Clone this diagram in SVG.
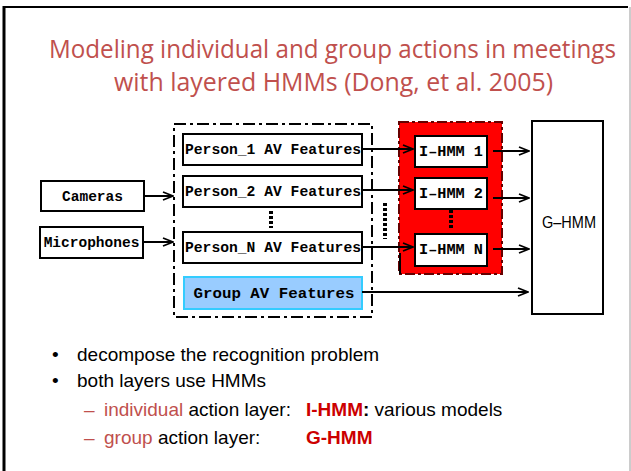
<svg xmlns="http://www.w3.org/2000/svg" width="631" height="471" viewBox="0 0 631 471">
<defs>
<marker id="ah" markerWidth="12" markerHeight="10" refX="11" refY="5" orient="auto" markerUnits="userSpaceOnUse">
<path d="M1,1 L11,5 L1,9" fill="none" stroke="#000" stroke-width="1.8"/>
</marker>
<style>
.box{fill:#fff;stroke:#000;stroke-width:2}
.mono{font-family:"Liberation Mono","DejaVu Sans Mono",monospace;font-weight:bold;font-size:14.5px;fill:#000}
.conn{stroke:#000;stroke-width:2;fill:none;marker-end:url(#ah)}
.dots{stroke:#000;stroke-width:4;stroke-dasharray:3 2;fill:none}
.body{font-family:"Liberation Sans",Arial,sans-serif;font-size:19px;fill:#000}
.red{fill:#C0504D}
.bred{fill:#CC0000;font-weight:bold}
</style>
</defs>
<rect width="631" height="471" fill="#fff"/>
<g id="frame">
<line x1="3" y1="7" x2="628" y2="7" stroke="#000" stroke-width="2"/>
<line x1="4" y1="6" x2="4" y2="471" stroke="#000" stroke-width="3"/>
<line x1="630" y1="7" x2="630" y2="471" stroke="#bbb" stroke-width="1.5"/>
</g>
<g id="title" font-family="'Open Sans','Noto Sans',sans-serif" font-size="25" fill="#C0504D">
<text x="49" y="58" textLength="567" lengthAdjust="spacingAndGlyphs">Modeling individual and group actions in meetings</text>
<text x="114" y="91" textLength="439" lengthAdjust="spacingAndGlyphs">with layered HMMs (Dong, et al. 2005)</text>
</g>
<g id="featureGroup">
<rect x="174" y="124" width="198" height="193" fill="none" stroke="#000" stroke-width="2" stroke-dasharray="12 4 3 4"/>
</g>
<g id="ihmmGroup">
<rect x="399" y="122" width="103" height="152" fill="#FF0000" stroke="#600" stroke-width="2" stroke-dasharray="10 3 3 3"/>
<line x1="400" y1="253" x2="400" y2="274" stroke="#000" stroke-width="2"/>
</g>
<g id="cameras">
<rect class="box" x="41" y="181" width="103" height="30"/>
<text class="mono" x="92.5" y="201" text-anchor="middle">Cameras</text>
</g>
<g id="microphones">
<rect class="box" x="40" y="227" width="103" height="31"/>
<text class="mono" x="91.5" y="247" text-anchor="middle">Microphones</text>
</g>
<g id="person1">
<rect class="box" x="183" y="134" width="179" height="31"/>
<text class="mono" x="273" y="154" text-anchor="middle" textLength="176" lengthAdjust="spacingAndGlyphs">Person_1 AV Features</text>
</g>
<g id="person2">
<rect class="box" x="183" y="176" width="179" height="31"/>
<text class="mono" x="273" y="196" text-anchor="middle" textLength="176" lengthAdjust="spacingAndGlyphs">Person_2 AV Features</text>
</g>
<g id="personN">
<rect class="box" x="183" y="232" width="179" height="31"/>
<text class="mono" x="273" y="252" text-anchor="middle" textLength="176" lengthAdjust="spacingAndGlyphs">Person_N AV Features</text>
</g>
<g id="groupAV">
<rect x="184" y="277" width="178" height="32" fill="#99CCFF" stroke="#33CCFF" stroke-width="2"/>
<text class="mono" x="274" y="298" text-anchor="middle" textLength="161" lengthAdjust="spacingAndGlyphs">Group AV Features</text>
</g>
<g id="ihmm1">
<rect class="box" x="415" y="136" width="72" height="31"/>
<text class="mono" x="451" y="156" text-anchor="middle" textLength="64" lengthAdjust="spacingAndGlyphs">I–HMM 1</text>
</g>
<g id="ihmm2">
<rect class="box" x="415" y="178" width="72" height="31"/>
<text class="mono" x="451" y="198" text-anchor="middle" textLength="64" lengthAdjust="spacingAndGlyphs">I–HMM 2</text>
</g>
<g id="ihmmN">
<rect class="box" x="415" y="234" width="72" height="32"/>
<text class="mono" x="451" y="254" text-anchor="middle" textLength="64" lengthAdjust="spacingAndGlyphs">I–HMM N</text>
</g>
<g id="ghmm">
<rect class="box" x="532" y="121" width="71" height="193"/>
<text x="569" y="228" text-anchor="middle" font-family="'Liberation Sans',Arial,sans-serif" font-size="17" textLength="54" lengthAdjust="spacingAndGlyphs">G–HMM</text>
</g>
<g id="connectors">
<line class="conn" x1="144" y1="196" x2="173" y2="196"/>
<line class="conn" x1="143" y1="242" x2="173" y2="242"/>
<line class="conn" x1="362" y1="149" x2="413" y2="149"/>
<line class="conn" x1="362" y1="190" x2="413" y2="190"/>
<line class="conn" x1="362" y1="247" x2="413" y2="247"/>
<line class="conn" x1="493" y1="151" x2="529" y2="151"/>
<line class="conn" x1="493" y1="198" x2="529" y2="198"/>
<line class="conn" x1="493" y1="249" x2="529" y2="249"/>
<line class="conn" x1="362" y1="292" x2="528" y2="292"/>
<line class="dots" x1="271" y1="211" x2="271" y2="228"/>
<line class="dots" x1="451" y1="210" x2="451" y2="229"/>
<line class="dots" x1="385" y1="203" x2="385" y2="239"/>
</g>
<g id="bullets" class="body">
<text x="52" y="361">•</text>
<text x="77" y="361">decompose the recognition problem</text>
<text x="52" y="387">•</text>
<text x="77" y="387">both layers use HMMs</text>
<text x="84" y="416"><tspan class="red">– </tspan><tspan class="red" x="104">individual</tspan> action layer:</text>
<text x="306" y="416"><tspan class="bred">I-HMM</tspan><tspan font-weight="bold">:</tspan> various models</text>
<text x="84" y="444"><tspan class="red">– </tspan><tspan class="red" x="104">group</tspan> action layer:</text>
<text x="306" y="444" class="bred">G-HMM</text>
</g>
</svg>
